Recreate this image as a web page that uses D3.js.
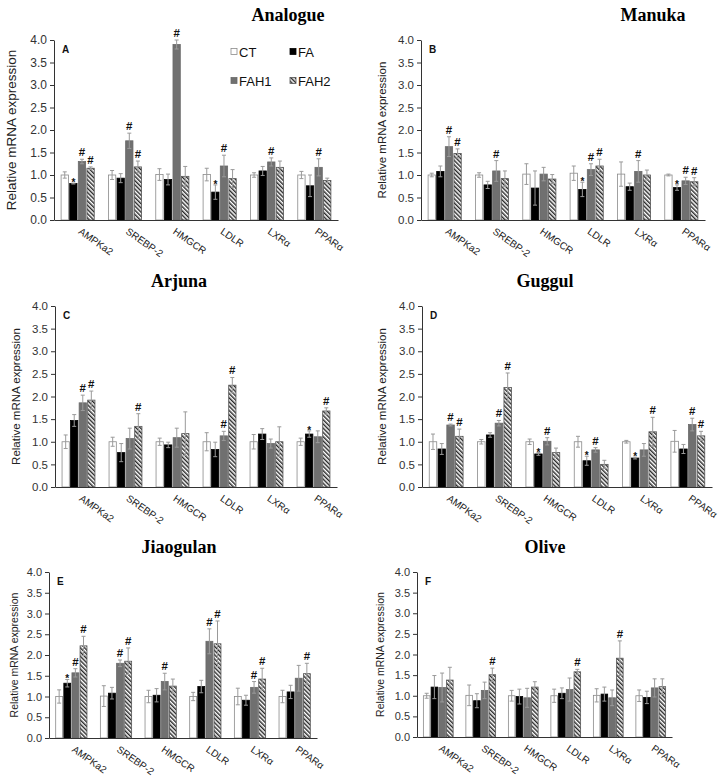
<!DOCTYPE html>
<html><head><meta charset="utf-8">
<script src="https://cdn.jsdelivr.net/npm/d3@7"></script>
<style>body{margin:0;background:#fff}svg{display:block}</style>
</head><body>
<svg id="c" width="724" height="777"></svg>
<script>
// ---------- DATA ----------
const genes = ["AMPKa2", "SREBP-2", "HMGCR", "LDLR", "LXRα", "PPARα"];
const groups = ["CT", "FA", "FAH1", "FAH2"];
const yTicks = [0, 0.5, 1.0, 1.5, 2.0, 2.5, 3.0, 3.5, 4.0];
const panelTitles = ["Analogue", "Manuka", "Arjuna", "Guggul", "Jiaogulan", "Olive"];
const panelLetters = ["A", "B", "C", "D", "E", "F"];
const yLabel = "Relative mRNA expression";

// rows = genes, columns = CT, FA, FAH1, FAH2
const analogueMean = [[1.00,0.81,1.30,1.15],[1.00,0.93,1.76,1.18],[1.01,0.90,3.90,0.97],[1.01,0.62,1.20,0.92],[1.00,1.09,1.29,1.17],[1.00,0.76,1.17,0.88]];
const analogueErr  = [[0.07,0.01,0.05,0.03],[0.10,0.10,0.17,0.13],[0.13,0.12,0.10,0.22],[0.14,0.16,0.24,0.20],[0.05,0.10,0.09,0.14],[0.08,0.24,0.19,0.05]];
const analogueSig  = [["","*","#","#"],["","","#","#"],["","","#",""],["","*","#",""],["","","#",""],["","","#",""]];

const manukaMean = [[1.00,1.08,1.63,1.48],[1.00,0.78,1.09,0.92],[1.02,0.71,1.02,0.91],[1.04,0.68,1.12,1.20],[1.02,0.74,1.08,1.00],[1.00,0.72,0.87,0.85]];
const manukaErr  = [[0.04,0.12,0.22,0.10],[0.05,0.08,0.23,0.17],[0.23,0.38,0.15,0.10],[0.16,0.16,0.13,0.15],[0.27,0.08,0.24,0.11],[0.02,0.06,0.08,0.09]];
const manukaSig  = [["","","#","#"],["","","#",""],["","","",""],["","*","#","#"],["","","#",""],["","*","#","#"]];

const arjunaMean = [[1.00,1.47,1.86,1.92],[1.00,0.76,1.07,1.34],[1.00,0.93,1.09,1.18],[1.00,0.83,1.13,2.25],[1.00,1.17,0.96,1.00],[1.00,1.17,1.11,1.68]];
const arjunaErr  = [[0.15,0.13,0.17,0.20],[0.10,0.20,0.23,0.28],[0.08,0.06,0.21,0.48],[0.20,0.16,0.10,0.17],[0.16,0.12,0.10,0.33],[0.08,0.07,0.13,0.07]];
const arjunaSig  = [["","","#","#"],["","","","#"],["","","",""],["","","#","#"],["","","",""],["","*","","#"]];

const guggulMean = [[1.00,0.84,1.37,1.12],[1.00,1.15,1.41,2.20],[1.00,0.73,1.01,0.76],[1.00,0.58,0.82,0.50],[1.00,0.64,0.82,1.22],[1.01,0.84,1.38,1.13]];
const guggulErr  = [[0.17,0.12,0.02,0.16],[0.05,0.05,0.06,0.32],[0.06,0.03,0.08,0.10],[0.12,0.10,0.05,0.09],[0.03,0.02,0.14,0.32],[0.24,0.10,0.14,0.10]];
const guggulSig  = [["","","#","#"],["","","#","#"],["","*","#",""],["","*","#",""],["","*","","#"],["","","#","#"]];

const jiaogulanMean = [[1.00,1.32,1.57,2.22],[1.01,1.08,1.80,1.85],[1.00,1.03,1.36,1.25],[1.00,1.24,2.33,2.27],[1.00,0.91,1.22,1.42],[1.00,1.11,1.44,1.55]];
const jiaogulanErr  = [[0.16,0.09,0.10,0.23],[0.25,0.14,0.08,0.32],[0.15,0.16,0.20,0.17],[0.10,0.15,0.30,0.55],[0.20,0.12,0.14,0.26],[0.15,0.16,0.31,0.25]];
const jiaogulanSig  = [["","*","#","#"],["","","#","#"],["","","#",""],["","","#","#"],["","","#","#"],["","","","#"]];

const oliveMean = [[1.00,1.21,1.20,1.38],[1.01,0.88,1.13,1.51],[1.00,0.98,0.95,1.21],[1.00,1.06,1.15,1.58],[1.01,1.04,0.95,1.91],[1.00,0.96,1.19,1.22]];
const oliveErr  = [[0.06,0.28,0.35,0.31],[0.25,0.17,0.20,0.16],[0.13,0.18,0.23,0.13],[0.16,0.13,0.28,0.06],[0.16,0.17,0.19,0.42],[0.14,0.15,0.22,0.19]];
const oliveSig  = [["","","",""],["","","","#"],["","","",""],["","","","#"],["","","","#"],["","","",""]];

const panelData = [
  [analogueMean, analogueErr, analogueSig],
  [manukaMean, manukaErr, manukaSig],
  [arjunaMean, arjunaErr, arjunaSig],
  [guggulMean, guggulErr, guggulSig],
  [jiaogulanMean, jiaogulanErr, jiaogulanSig],
  [oliveMean, oliveErr, oliveSig]
];

// ---------- LAYOUT ----------
const layout = [
  {x0:54,  x1:338, yTop:40,  yBot:220, tx:288, ty:21,  lx:12,  lf:13.5, tf:12},
  {x0:421, x1:705, yTop:40,  yBot:220, tx:653, ty:21,  lx:383, lf:11.5, tf:11.5},
  {x0:55,  x1:337, yTop:306, yBot:487, tx:179, ty:287, lx:17,  lf:11.5, tf:11.5},
  {x0:422, x1:712, yTop:306, yBot:487, tx:545, ty:287, lx:383, lf:11.5, tf:11.5},
  {x0:49,  x1:317, yTop:572, yBot:738, tx:179, ty:553, lx:15,  lf:10.5, tf:11},
  {x0:417, x1:672, yTop:572, yBot:737, tx:545, ty:553, lx:381, lf:10.5, tf:11}
];

const fills = {CT:"#ffffff", FA:"#000000", FAH1:"#707070", FAH2:"url(#hatch)"};
const strokes = {CT:"#8a8a8a", FA:"#000000", FAH1:"#6a6a6a", FAH2:"#555555"};
const sans = "'Liberation Sans', Arial, sans-serif";

const svg = d3.select("#c");
const defs = svg.append("defs");
const pat = defs.append("pattern").attr("id","hatch").attr("patternUnits","userSpaceOnUse")
  .attr("width",3).attr("height",3).attr("patternTransform","rotate(-45)");
pat.append("rect").attr("width",3).attr("height",3).attr("fill","#fff");
pat.append("line").attr("x1",0.75).attr("y1",0).attr("x2",0.75).attr("y2",3)
  .attr("stroke","#111").attr("stroke-width",1.3);

layout.forEach((L, pi) => {
  const [mean, err, sig] = panelData[pi];
  const g = svg.append("g");
  const x = d3.scaleBand().domain(genes).range([L.x0, L.x1]).paddingInner(0.3).paddingOuter(0.15);
  const xs = d3.scaleBand().domain(groups).range([0, x.bandwidth()]).paddingInner(0.15);
  const y = d3.scaleLinear().domain([0, 4]).range([L.yBot, L.yTop]);

  g.append("text").attr("x", L.tx).attr("y", L.ty).attr("text-anchor","middle")
    .attr("font-family","'Liberation Serif', 'Times New Roman', serif").attr("font-weight","bold")
    .attr("font-size",18).attr("fill","#000").text(panelTitles[pi]);

  const rows = [];
  genes.forEach((gn, gi) => groups.forEach((gr, si) => rows.push({gene:gn, grp:gr, v:mean[gi][si], e:err[gi][si], s:sig[gi][si]})));
  g.selectAll("rect.bar").data(rows).enter().append("rect").attr("class","bar")
    .attr("x", d => x(d.gene) + xs(d.grp))
    .attr("y", d => y(d.v))
    .attr("width", xs.bandwidth())
    .attr("height", d => y(0) - y(d.v))
    .attr("fill", d => fills[d.grp])
    .attr("stroke", d => strokes[d.grp]).attr("stroke-width", 0.8);

  const eb = g.selectAll("g.eb").data(rows).enter().append("g").attr("class","eb")
    .attr("stroke","#9a9a9a").attr("stroke-width",1);
  const cx = d => x(d.gene) + xs(d.grp) + xs.bandwidth()/2;
  eb.append("line").attr("x1",cx).attr("x2",cx).attr("y1",d=>y(d.v+d.e)).attr("y2",d=>y(d.v-d.e));
  eb.append("line").attr("x1",d=>cx(d)-2).attr("x2",d=>cx(d)+2).attr("y1",d=>y(d.v+d.e)).attr("y2",d=>y(d.v+d.e));
  eb.append("line").attr("x1",d=>cx(d)-2).attr("x2",d=>cx(d)+2).attr("y1",d=>y(d.v-d.e)).attr("y2",d=>y(d.v-d.e));

  g.selectAll("text.sig").data(rows.filter(d => d.s)).enter().append("text").attr("class","sig")
    .attr("x", cx).attr("y", d => y(d.v + d.e) - (d.s === "*" ? -3 : 3))
    .attr("text-anchor","middle").attr("font-family",sans).attr("font-weight","bold")
    .attr("font-size", d => d.s === "*" ? 10 : 11.5).attr("fill","#111").text(d => d.s);

  const ya = g.append("g").attr("transform",`translate(${L.x0},0)`)
    .call(d3.axisLeft(y).tickValues(yTicks).tickFormat(d3.format(".1f")).tickSize(4).tickSizeOuter(0).tickPadding(3));
  ya.select(".domain").attr("stroke","#333");
  ya.selectAll(".tick line").attr("stroke","#333");
  ya.selectAll(".tick text").attr("font-family",sans).attr("font-size",L.tf).attr("fill","#333");

  const xa = g.append("g").attr("transform",`translate(0,${L.yBot})`)
    .call(d3.axisBottom(x).tickSize(0).tickSizeOuter(0).tickPadding(0));
  xa.select(".domain").attr("stroke","#333").attr("stroke-width",1.2);
  xa.selectAll(".tick text").attr("font-family",sans).attr("font-size",10).attr("fill","#222")
    .attr("text-anchor","start").attr("dy",null).attr("y",0)
    .attr("transform","translate(0,13) rotate(35)");

  g.append("text").attr("transform",`translate(${L.lx},${(L.yTop+L.yBot)/2}) rotate(-90)`)
    .attr("text-anchor","middle").attr("dominant-baseline","middle")
    .attr("font-family",sans).attr("font-size",L.lf).attr("fill","#222").text(yLabel);

  g.append("text").attr("x", L.x0 + 8).attr("y", L.yTop + 13)
    .attr("font-family",sans).attr("font-weight","bold").attr("font-size",10).attr("fill","#111")
    .text(panelLetters[pi]);

  if (pi === 0) {
    const lx = [231, 290], ly = [52, 81];
    groups.forEach((gr, i) => {
      const px = lx[i % 2], py = ly[Math.floor(i / 2)];
      g.append("rect").attr("x", px).attr("y", py - 3.5).attr("width",6).attr("height",6)
        .attr("fill", fills[gr]).attr("stroke", strokes[gr]).attr("stroke-width",0.8);
      g.append("text").attr("x", px + 8).attr("y", py + 5).attr("font-family",sans)
        .attr("font-size",13).attr("fill","#111").text(gr);
    });
  }
});
</script>
</body></html>
